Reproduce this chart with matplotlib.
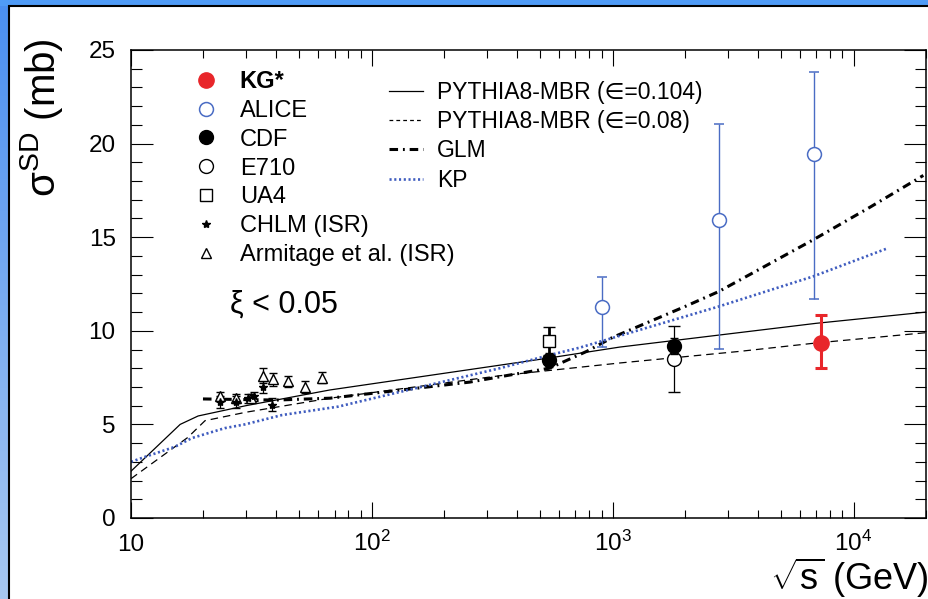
import matplotlib
matplotlib.use("Agg")
import matplotlib.pyplot as plt
import numpy as np
from matplotlib.lines import Line2D
from matplotlib.patches import Rectangle
from matplotlib.ticker import FixedFormatter, FixedLocator, LogLocator, MultipleLocator, NullFormatter

plt.rcParams["font.family"] = ["Liberation Sans", "DejaVu Sans"]
plt.rcParams["mathtext.fontset"] = "custom"
plt.rcParams["mathtext.rm"] = "Liberation Sans"
plt.rcParams["mathtext.it"] = "Liberation Sans:italic"
plt.rcParams["mathtext.bf"] = "Liberation Sans:bold"

# measurements (sqrt(s) in GeV, sigma_SD in mb)
KG_SQRTS = [7300]
KG_SIGMA = [9.35]
KG_ERR_LO = [1.34]
KG_ERR_HI = [1.49]

ALICE_SQRTS = [900, 2760, 6860]
ALICE_SIGMA = [11.27, 15.92, 19.44]
ALICE_ERR_LO = [2.14, 6.89, 7.74]
ALICE_ERR_HI = [1.60, 5.13, 4.38]

CDF_SQRTS = [546, 1800]
CDF_SIGMA = [8.44, 9.19]
CDF_ERR = [0.35, 0.44]

E710_SQRTS = [1800]
E710_SIGMA = [8.49]
E710_ERR = [1.77]

UA4_SQRTS = [546]
UA4_SIGMA = [9.46]
UA4_ERR = [0.75]

CHLM_SQRTS = [23.5, 27.3, 30.6, 32.5, 35.3, 38.5]
CHLM_SIGMA = [6.2, 6.2, 6.4, 6.5, 7.0, 6.05]
CHLM_ERR = [0.3, 0.3, 0.25, 0.25, 0.3, 0.35]

ARM_SQRTS = [23.5, 27.3, 31.5, 35.3, 38.8, 44.7, 52.8, 62.3]
ARM_SIGMA = [6.5, 6.4, 6.4, 7.6, 7.4, 7.3, 7.0, 7.5]
ARM_ERR = [0.25, 0.25, 0.2, 0.4, 0.35, 0.3, 0.3, 0.3]

# model curves
MBR104_SQRTS = [10, 16, 19, 30, 67, 546, 1069, 7000, 20000]
MBR104_SIGMA = [2.5, 5.0, 5.45, 6.0, 6.84, 8.55, 9.13, 10.4, 11.0]

MBR08_SQRTS = [10, 17.2, 20.3, 30, 67, 340, 1069, 3365, 7000, 20000]
MBR08_SIGMA = [2.1, 4.3, 5.2, 5.65, 6.4, 7.6, 8.28, 8.9, 9.35, 9.9]

GLM_SQRTS = [19.9, 40, 67, 255, 360, 546, 780, 1000, 2000, 2760, 6780, 11700, 19500]
GLM_SIGMA = [6.36, 6.3, 6.4, 7.26, 7.6, 8.0, 8.9, 9.65, 11.3, 12.1, 14.85, 16.6, 18.3]

KP_SQRTS = [10, 11.4, 15.2, 17.9, 24.5, 29.7, 42.4, 72.5, 340, 546, 730, 2760, 6780, 13800]
KP_SIGMA = [3.0, 3.26, 3.8, 4.27, 4.8, 5.0, 5.5, 5.95, 8.0, 8.7, 9.1, 11.3, 12.9, 14.4]

X_TICKS = [10, 100, 1000, 10000]
X_TICK_LABELS = ["10", "$10^{2}$", "$10^{3}$", "$10^{4}$"]

RED = "#e8262a"
BLUE = "#4a6cc4"
KP_BLUE = "#3f5cbf"

W, H = 929, 599
fig = plt.figure(figsize=(W / 100, H / 100), dpi=100)

# slide frame: blue bands on the left and top
grad = np.linspace(0, 1, 256).reshape(-1, 1)
bg = fig.add_axes([0, 0, 9 / W, 1], zorder=-10)
bg.imshow(grad, aspect="auto", cmap=matplotlib.colors.LinearSegmentedColormap.from_list(
    "band", ["#4a8ff0", "#a8c8f0"]), extent=(0, 1, 0, 1))
bg.set_axis_off()
fig.patches.append(Rectangle((0, 1 - 6 / H), 1, 6 / H, transform=fig.transFigure,
                             facecolor="#4f9bf6", edgecolor="none", zorder=-9))
fig.patches.append(Rectangle((9 / W, -0.01), 1, 1 - 6 / H + 0.01, transform=fig.transFigure,
                             facecolor="none", edgecolor="black", linewidth=1.5, zorder=-8))

ax = fig.add_axes([131 / W, 81 / H, 795 / W, 468 / H])
ax.set_xscale("log")
ax.set_xlim(10, 2e4)
ax.set_ylim(0, 25)

ax.plot(MBR104_SQRTS, MBR104_SIGMA, color="black", lw=0.9, zorder=2)
ax.plot(MBR08_SQRTS, MBR08_SIGMA, color="black", lw=0.9, ls=(0, (6, 4)), zorder=2)
ax.plot(GLM_SQRTS, GLM_SIGMA, color="black", lw=2.2, ls=(0, (2.8, 1.6, 0.6, 1.6)), zorder=2)
ax.plot(KP_SQRTS, KP_SIGMA, color=KP_BLUE, lw=1.9, ls=(0, (0.8, 1.0)), zorder=2)

eb_arm = ax.errorbar(ARM_SQRTS, ARM_SIGMA, yerr=ARM_ERR, fmt="^", ms=6.5, mfc="white",
                     mec="black", mew=1.0, ecolor="black", elinewidth=0.9, capsize=3, zorder=4)
eb_chlm = ax.errorbar(CHLM_SQRTS, CHLM_SIGMA, yerr=CHLM_ERR, fmt="*", ms=6, color="black",
                      elinewidth=0.9, capsize=3, zorder=4)
eb_ua4 = ax.errorbar(UA4_SQRTS, UA4_SIGMA, yerr=UA4_ERR, fmt="s", ms=9, mfc="white", mec="black",
                     mew=1.0, ecolor="black", elinewidth=2.0, capsize=4, capthick=2.5, zorder=4)
eb_e710 = ax.errorbar(E710_SQRTS, E710_SIGMA, yerr=E710_ERR, fmt="o", ms=10, mfc="white",
                      mec="black", mew=1.0, ecolor="black", elinewidth=0.9, capsize=4, zorder=4)
eb_cdf = ax.errorbar(CDF_SQRTS, CDF_SIGMA, yerr=CDF_ERR, fmt="o", ms=10, color="black",
                     elinewidth=1.5, capsize=3, zorder=5)
eb_alice = ax.errorbar(ALICE_SQRTS, ALICE_SIGMA, yerr=[ALICE_ERR_LO, ALICE_ERR_HI], fmt="o",
                       ms=10, mfc="white", mec=BLUE, mew=1.1, ecolor=BLUE, elinewidth=1.0,
                       capsize=3.5, zorder=4)
eb_kg = ax.errorbar(KG_SQRTS, KG_SIGMA, yerr=[KG_ERR_LO, KG_ERR_HI], fmt="o", ms=11,
                    color=RED, elinewidth=2.2, capsize=4, capthick=2.2, zorder=6)

# axes styling (ROOT-like frame, inward ticks on all sides)
ax.xaxis.set_major_locator(FixedLocator(X_TICKS))
ax.xaxis.set_major_formatter(FixedFormatter(X_TICK_LABELS))
ax.xaxis.set_minor_locator(LogLocator(base=10, subs=np.arange(2, 10), numticks=20))
ax.xaxis.set_minor_formatter(NullFormatter())
ax.yaxis.set_major_locator(MultipleLocator(5))
ax.yaxis.set_minor_locator(MultipleLocator(1))
ax.tick_params(which="both", direction="in", top=True, right=True, width=0.8, labelsize=17.5)
ax.tick_params(axis="x", which="major", length=11.5, pad=24)
ax.tick_params(axis="x", which="minor", length=6)
ax.tick_params(axis="y", which="major", length=16, pad=11)
ax.tick_params(axis="y", which="minor", length=8)
for tick in ax.xaxis.get_major_ticks():
    tick.label1.set_verticalalignment("baseline")
for sp in ax.spines.values():
    sp.set_linewidth(1.1)

fig.text(42 / W, 1 - 38 / H, r"σ$^{\mathrm{SD}}$ (mb)", fontsize=29, rotation=90,
         ha="center", va="top")
fig.text(928 / W, 1 - 590 / H, r"$\sqrt{\mathrm{s}}$ (GeV)", fontsize=26, ha="right",
         va="baseline")
fig.text(230 / W, 1 - 305 / H, "ξ < 0.05", fontsize=22, ha="left", va="center")

leg1 = ax.legend([eb_kg[0], eb_alice[0], eb_cdf[0], eb_e710[0], eb_ua4[0], eb_chlm[0], eb_arm[0]],
                 ["KG*", "ALICE", "CDF", "E710", "UA4", "CHLM (ISR)", "Armitage et al. (ISR)"],
                 loc="upper left", bbox_to_anchor=(194 / W, 1 - 70 / H),
                 bbox_transform=fig.transFigure, frameon=False, fontsize=17,
                 handlelength=1.0, handletextpad=0.94, labelspacing=0.29,
                 borderpad=0, borderaxespad=0)
leg1.get_texts()[0].set_fontweight("bold")
ax.add_artist(leg1)

model_handles = [
    Line2D([], [], color="black", lw=0.9),
    Line2D([], [], color="black", lw=0.9, ls=(0, (3, 2.5))),
    Line2D([], [], color="black", lw=2.2, ls=(0, (2.8, 1.6, 0.6, 1.6))),
    Line2D([], [], color=KP_BLUE, lw=1.9, ls=(0, (0.8, 1.0))),
]
ax.legend(model_handles,
          ["PYTHIA8-MBR (∈=0.104)", "PYTHIA8-MBR (∈=0.08)", "GLM", "KP"],
          loc="upper left", bbox_to_anchor=(389 / W, 1 - 81 / H),
          bbox_transform=fig.transFigure, frameon=False, fontsize=16.5,
          handlelength=1.48, handletextpad=0.61, labelspacing=0.27,
          borderpad=0, borderaxespad=0)

fig.savefig("out.png", dpi=100)
